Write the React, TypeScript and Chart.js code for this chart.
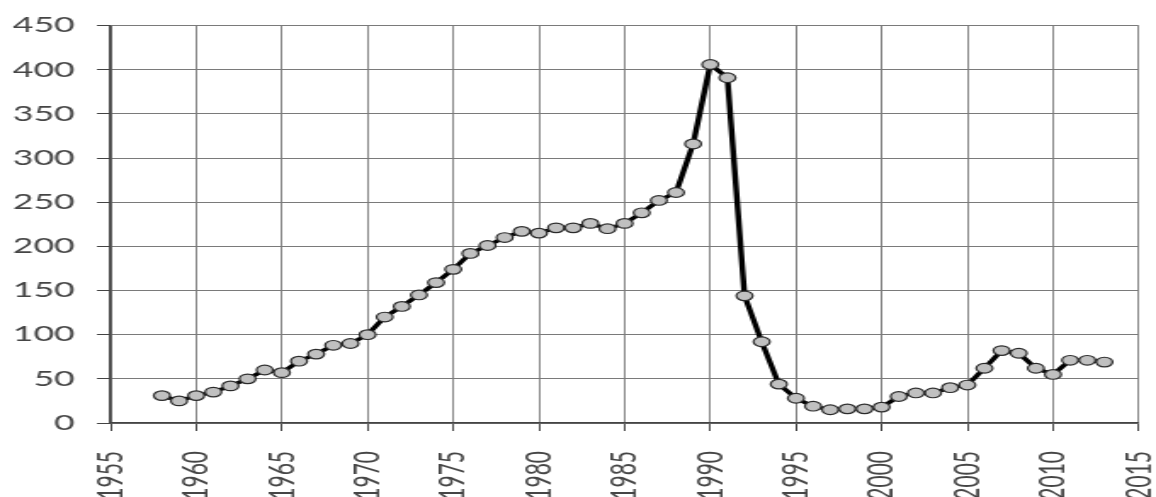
import React, { useEffect, useRef } from 'react';
import { Chart, registerables } from 'chart.js';

Chart.register(...registerables);

const years = [
  1958, 1959, 1960, 1961, 1962, 1963, 1964, 1965, 1966, 1967, 1968, 1969,
  1970, 1971, 1972, 1973, 1974, 1975, 1976, 1977, 1978, 1979, 1980, 1981,
  1982, 1983, 1984, 1985, 1986, 1987, 1988, 1989, 1990, 1991, 1992, 1993,
  1994, 1995, 1996, 1997, 1998, 1999, 2000, 2001, 2002, 2003, 2004, 2005,
  2006, 2007, 2008, 2009, 2010, 2011, 2012, 2013,
];

const values = [
  31, 25, 31, 35, 42, 50, 60, 57, 70, 78, 88, 90,
  100, 120, 132, 145, 159, 174, 192, 201, 210, 217, 215, 221,
  221, 226, 220, 226, 238, 252, 261, 316, 406, 391, 144, 92,
  44, 28, 19, 15, 16, 16, 18, 30, 34, 34, 40, 43,
  62, 82, 79, 62, 55, 71, 71, 69,
];

const xMin = 1955;
const xMax = 2015;
const xStep = 5;
const yMin = 0;
const yMax = 450;
const yStep = 50;

const STRETCH = 1.7;
const INNER_W = 715;
const INNER_H = 497;

export default function App() {
  const ref = useRef<HTMLCanvasElement>(null);

  useEffect(() => {
    if (!ref.current) return;
    const font = { family: 'Lato, "Open Sans", sans-serif', size: 21 };
    const chart = new Chart(ref.current, {
      type: 'line',
      data: {
        datasets: [
          {
            data: years.map((y, i) => ({ x: y, y: values[i] })),
            borderColor: '#000000',
            borderWidth: 3.4,
            tension: 0,
            pointRadius: 4.8,
            pointBackgroundColor: '#c0c0c0',
            pointBorderColor: '#2a2a2a',
            pointBorderWidth: 1.2,
          },
        ],
      },
      options: {
        animation: false,
        responsive: false,
        maintainAspectRatio: false,
        layout: { padding: { top: 25, right: 10, left: 0, bottom: 0 } },
        plugins: { legend: { display: false }, tooltip: { enabled: false } },
        scales: {
          x: {
            type: 'linear',
            min: xMin,
            max: xMax,
            ticks: {
              stepSize: xStep,
              maxRotation: 90,
              minRotation: 90,
              padding: 20,
              color: '#454545',
              font,
              callback: (v: any) => String(v),
            },
            grid: { color: '#848484', lineWidth: 1, tickLength: 8, tickColor: '#444' },
            border: { color: '#444', width: 1.6 },
            afterFit: (s: any) => {
              s.height = 74;
            },
          },
          y: {
            min: yMin,
            max: yMax,
            ticks: {
              stepSize: yStep,
              padding: 13,
              color: '#454545',
              font,
            },
            grid: { color: '#7a7a7a', lineWidth: 1, tickLength: 8, tickColor: '#444' },
            border: { color: '#444', width: 1.6 },
            afterFit: (s: any) => {
              s.width = 65;
            },
          },
        },
      },
    });
    return () => chart.destroy();
  }, []);

  return (
    <div
      style={{
        position: 'absolute',
        left: 0,
        top: 0,
        width: 1156,
        height: 497,
        overflow: 'hidden',
        background: '#fff',
      }}
    >
      <div
        style={{
          width: INNER_W,
          height: INNER_H,
          transform: `scaleX(${STRETCH})`,
          transformOrigin: '0 0',
        }}
      >
        <canvas ref={ref} width={INNER_W} height={INNER_H} />
      </div>
    </div>
  );
}
